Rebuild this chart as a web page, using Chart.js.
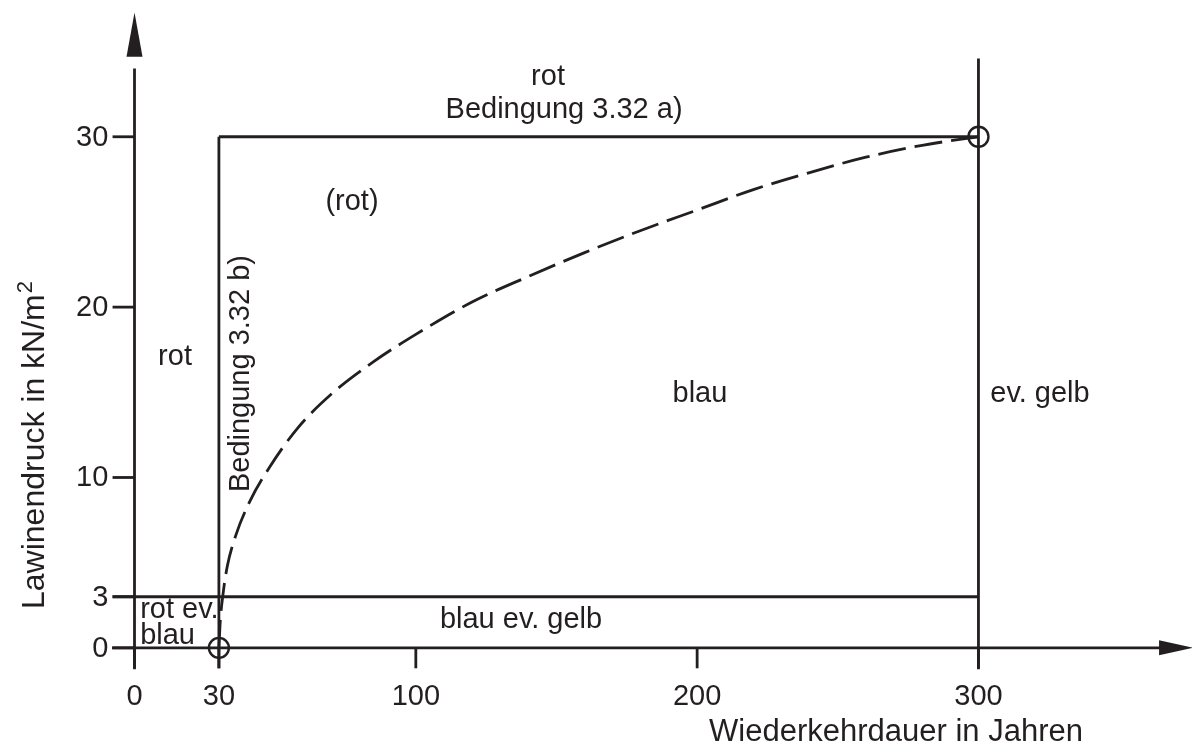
<!DOCTYPE html>
<html><head><meta charset="utf-8">
<script src="https://cdn.jsdelivr.net/npm/chart.js@4/dist/chart.umd.min.js"></script>
<style>html,body{margin:0;padding:0;background:#fff;overflow:hidden;}canvas{display:block;}</style>
</head><body>
<canvas id="c" width="1192" height="747"></canvas>
<script>
// ---- data ----
const xTicks = [0, 30, 100, 200, 300];
const yTicks = [0, 3, 10, 20, 30];
const curveX = [30, 30.5, 31.5, 33, 36, 41, 48, 58, 70, 85, 100, 120, 140, 160, 180, 200, 220, 240, 260, 280, 300];
const curveY = [0, 1.6, 3.2, 4.8, 6.6, 8.6, 10.6, 12.9, 14.9, 16.8, 18.4, 20.3, 21.8, 23.2, 24.5, 25.7, 26.9, 27.9, 28.8, 29.5, 30];
const topLineX = [30, 300], topLineY = [30, 30];
const line3X = [-7.8, 300], line3Y = [3, 3];
const left30X = [30, 30], left30Y = [30, -1.2];
const right300X = [300, 300], right300Y = [34.6, -1.25];
const markerX = [30, 300], markerY = [0, 30];
const xTitle = 'Wiederkehrdauer in Jahren';
const yTitleMain = 'Lawinendruck in kN/m';
const yTitleSup = '2';
const labels = [
  {t:'rot', x:147.0, y:33.5, a:'center'},
  {t:'Bedingung 3.32 a)', x:152.7, y:31.6, a:'center'},
  {t:'(rot)', x:77.3, y:26.2, a:'center'},
  {t:'rot', x:14.4, y:17.1, a:'center'},
  {t:'Bedingung 3.32 b)', x:37.9, y:16.1, a:'center', rot:true},
  {t:'blau', x:201, y:14.9, a:'center'},
  {t:'ev. gelb', x:304.2, y:14.9, a:'left'},
  {t:'rot ev.', x:2, y:2.2, a:'left'},
  {t:'blau', x:2, y:0.7, a:'left'},
  {t:'blau ev. gelb', x:137.4, y:1.63, a:'center'}
];
// ---- helpers ----
const INK = '#231f20';
const LW = 2.8;
const FONT = '"Liberation Sans", Arial, Helvetica, sans-serif';
const pts = (xs, ys) => xs.map((x, i) => ({x, y: ys[i]}));
const seg = (xs, ys) => ({data: pts(xs, ys), showLine: true, borderColor: INK, borderWidth: LW, pointRadius: 0, clip: false, fill: false});

const overlay = {
  id: 'overlay',
  beforeDatasetsDraw(chart) {
    const c = chart.ctx, X = v => chart.scales.x.getPixelForValue(v), Y = v => chart.scales.y.getPixelForValue(v);
    c.save();
    c.strokeStyle = INK; c.fillStyle = INK; c.lineWidth = LW; c.lineCap = 'butt';
    // x axis
    c.beginPath(); c.moveTo(X(-8), Y(0)); c.lineTo(X(366), Y(0)); c.stroke();
    c.beginPath(); c.moveTo(X(376.3), Y(0)); c.lineTo(X(364.2), Y(0) - 7.5); c.lineTo(X(364.2), Y(0) + 7.5); c.closePath(); c.fill();
    // y axis
    c.beginPath(); c.moveTo(X(0), Y(-1.25)); c.lineTo(X(0), Y(34)); c.stroke();
    c.beginPath(); c.moveTo(X(0), Y(37.3)); c.lineTo(X(0) - 8, Y(34.7)); c.lineTo(X(0) + 8, Y(34.7)); c.closePath(); c.fill();
    // ticks
    yTicks.forEach(v => { c.beginPath(); c.moveTo(X(-7.8), Y(v)); c.lineTo(X(0), Y(v)); c.stroke(); });
    xTicks.forEach(v => { c.beginPath(); c.moveTo(X(v), Y(0)); c.lineTo(X(v), Y(-1.2)); c.stroke(); });
    // tick labels
    c.font = '29px ' + FONT; c.textBaseline = 'middle';
    c.textAlign = 'right';
    yTicks.forEach(v => c.fillText(String(v), X(-9.3), Y(v) + 1));
    c.textAlign = 'center';
    xTicks.forEach(v => c.fillText(String(v), X(v), Y(-2.9)));
    // titles
    c.font = '31px ' + FONT;
    c.textAlign = 'right';
    c.fillText(xTitle, 1083, Y(-4.95));
    c.save(); c.translate(35, 445); c.rotate(-Math.PI / 2);
    c.font = '32px ' + FONT;
    const wMain = c.measureText(yTitleMain).width;
    c.font = '22px ' + FONT;
    const wSup = c.measureText(yTitleSup).width;
    const start = -(wMain + wSup + 1) / 2;
    c.textAlign = 'left';
    c.font = '32px ' + FONT; c.fillText(yTitleMain, start, 0);
    c.font = '22px ' + FONT; c.fillText(yTitleSup, start + wMain + 1, -9);
    c.restore();
    c.restore();
  },
  afterDatasetsDraw(chart) {
    const c = chart.ctx, X = v => chart.scales.x.getPixelForValue(v), Y = v => chart.scales.y.getPixelForValue(v);
    c.save(); c.fillStyle = INK; c.font = '29px ' + FONT; c.textBaseline = 'middle';
    labels.forEach(l => {
      c.textAlign = l.a;
      if (l.rot) { c.save(); c.translate(X(l.x), Y(l.y)); c.rotate(-Math.PI / 2); c.fillText(l.t, 0, 0); c.restore(); }
      else c.fillText(l.t, X(l.x), Y(l.y));
    });
    c.restore();
  }
};

new Chart(document.getElementById('c').getContext('2d'), {
  type: 'scatter',
  data: { datasets: [
    seg(topLineX, topLineY), seg(line3X, line3Y), seg(left30X, left30Y), seg(right300X, right300Y),
    {data: pts(curveX, curveY), showLine: true, borderColor: INK, borderWidth: LW, borderDash: [28, 9], pointRadius: 0, cubicInterpolationMode: 'monotone', clip: false},
    {data: pts(markerX, markerY), showLine: false, pointRadius: 10, pointBorderWidth: 2.4, pointBorderColor: INK, pointBackgroundColor: 'rgba(0,0,0,0)', clip: false}
  ]},
  options: {
    responsive: false, animation: false, devicePixelRatio: 1, events: [],
    layout: { padding: { left: 112, right: 0, top: 10, bottom: 77 } },
    scales: { x: { type: 'linear', min: -8, max: 371.5, display: false }, y: { type: 'linear', min: -1.3, max: 37.3, display: false } },
    plugins: { legend: { display: false }, tooltip: { enabled: false } }
  },
  plugins: [overlay]
});
</script>
</body></html>
